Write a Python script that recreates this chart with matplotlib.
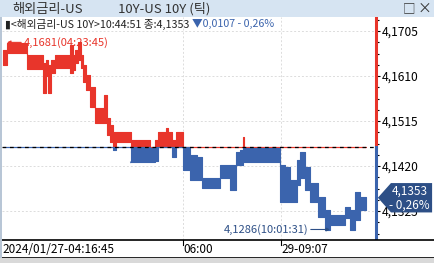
import numpy as np
import matplotlib
matplotlib.use("Agg")
import matplotlib.pyplot as plt
from matplotlib.patches import Polygon, Rectangle
from matplotlib.ticker import MultipleLocator

plt.rcParams['font.family'] = ['Noto Sans CJK KR', 'DejaVu Sans']

# 틱 데이터 (구간 시작 위치, 고가, 저가)
seg_x = [3, 7, 27, 43, 46, 48, 51, 55, 70, 73, 75, 78, 81, 83, 86, 90, 95, 104, 107, 110,
         113, 116, 131, 150, 155, 158, 166, 168, 172, 176, 183, 190, 197, 202, 220, 230, 236,
         240, 243, 244, 280, 285, 290, 297, 300, 305, 310, 318, 325, 330, 345, 350, 355, 360]
seg_hi = [4.1665, 4.1680, 4.1654, 4.1637, 4.1644, 4.1633, 4.1644, 4.1654, 4.1675, 4.1654,
          4.1665, 4.1682, 4.1654, 4.1633, 4.1612, 4.1587, 4.1542, 4.1570, 4.1521, 4.1507,
          4.1492, 4.1492, 4.1475, 4.1458, 4.1475, 4.1492, 4.1500, 4.1492, 4.1475, 4.1492,
          4.1460, 4.1443, 4.1439, 4.1395, 4.1422, 4.1422, 4.1450, 4.1454, 4.1481, 4.1458,
          4.1422, 4.1418, 4.1390, 4.1433, 4.1450, 4.1418, 4.1384, 4.1355, 4.1327, 4.1317,
          4.1333, 4.1327, 4.1365, 4.1355]
seg_lo = [4.1633, 4.1659, 4.1625, 4.1574, 4.1610, 4.1574, 4.1616, 4.1627, 4.1616, 4.1623,
          4.1637, 4.1644, 4.1627, 4.1597, 4.1580, 4.1545, 4.1511, 4.1511, 4.1485, 4.1471,
          4.1454, 4.1471, 4.1428, 4.1428, 4.1431, 4.1460, 4.1460, 4.1460, 4.1439, 4.1460,
          4.1412, 4.1390, 4.1390, 4.1374, 4.1395, 4.1369, 4.1422, 4.1422, 4.1428, 4.1428,
          4.1344, 4.1344, 4.1344, 4.1380, 4.1395, 4.1369, 4.1344, 4.1312, 4.1285, 4.1295,
          4.1310, 4.1285, 4.1306, 4.1327]
seg_end = 366
gap_x = [131, 150]
gap_v = [4.1428, 4.1450]

prev_close = 4.1460
last_price = 4.1353
y_ticks = [4.1325, 4.1420, 4.1515, 4.1610, 4.1705]
time_pos = [2, 183, 281]
time_labels = ['2024/01/27-04:16:45', '06:00', '29-09:07']

RED = '#e8352b'
BLUE = '#3b64ad'
DARK = '#2d4f86'

W, H = 434, 263
fig = plt.figure(figsize=(W / 100, H / 100), dpi=100)
fig.patch.set_facecolor('white')

def px(x0, y0, x1, y1):
    return [x0 / W, 1 - y1 / H, (x1 - x0) / W, (y1 - y0) / H]

# 타이틀 바
fig.patches.append(Rectangle((0, 1 - 17 / H), 1, 17 / H, transform=fig.transFigure,
                             facecolor='#d6e4f2', edgecolor='none', zorder=0))
fig.text(12 / W, 1 - 9 / H, '해외금리-US', fontsize=9.5, color='#333333', va='center')
fig.text(118 / W, 1 - 9 / H, '10Y-US 10Y (틱)', fontsize=9.5, color='#333333', va='center')
fig.text(409 / W, 1 - 9 / H, '□', fontsize=9, color='#333333', va='center', ha='center')
fig.text(424 / W, 1 - 9 / H, '×', fontsize=10, color='#333333', va='center', ha='center')

# 메인 차트
ax = fig.add_axes(px(2, 17, 376, 240))
ax.set_xlim(2, 376)
ax.set_ylim(4.12638, 4.17346)

xs = np.append(seg_x, seg_end)
hi = np.append(seg_hi, seg_hi[-1])
lo = np.append(seg_lo, seg_lo[-1])
ax.fill_between(xs, np.maximum(lo, prev_close), np.maximum(hi, prev_close),
                step='post', color=RED, lw=0.8, edgecolor=RED, zorder=3)
ax.fill_between(xs, np.minimum(lo, prev_close), np.minimum(hi, prev_close),
                step='post', color=BLUE, lw=0.8, edgecolor=BLUE, zorder=3)
ax.plot(gap_x, gap_v, color=BLUE, lw=1.2, zorder=3)

ax.axhline(prev_close, color='black', ls=(0, (3, 3)), lw=0.9, zorder=4)
for v in y_ticks:
    ax.axhline(v, color='#dcdcdc', ls=(0, (2, 2)), lw=0.7, zorder=1)
for t in time_pos[1:]:
    ax.axvline(t, color='#dcdcdc', ls=(0, (2, 2)), lw=0.7, zorder=1)

for s in ['top', 'bottom', 'left', 'right']:
    ax.spines[s].set_visible(False)
ax.plot([1, 1], [prev_close, 4.17346], transform=ax.get_yaxis_transform(),
        color=RED, lw=2.2, clip_on=False, zorder=5)
ax.plot([1, 1], [4.12638, prev_close], transform=ax.get_yaxis_transform(),
        color=BLUE, lw=2.2, clip_on=False, zorder=5)

ax.set_xticks([])
ax.yaxis.tick_right()
ax.set_yticks(y_ticks)
ax.set_yticklabels([f'{v:.4f}'.replace('.', ',') for v in y_ticks])
ax.yaxis.set_minor_locator(MultipleLocator(0.0095 / 4))
ax.tick_params(axis='y', which='major', length=3, width=0.8, pad=1,
               labelsize=8.7, colors='black')
ax.tick_params(axis='y', which='minor', length=2, width=0.8)

# 헤더
head = fig.text(5 / W, 1 - 24 / H, '▮<해외금리-US 10Y>10:44:51 종:4,1353', fontsize=7.7,
                color='#222222', va='center')
fig.canvas.draw()
bb = head.get_window_extent()
fig.text((bb.x1 + 3) / W, 1 - 24 / H, '▼0,0107 - 0,26%', fontsize=7.7, color=BLUE,
         va='center')

# 고가/저가 표시
ax.annotate('4,1681(04:23:45)', xy=(7, 4.1681), xytext=(24, 4.1681),
            color=RED, fontsize=8, va='center',
            arrowprops=dict(arrowstyle='-|>', color=RED, lw=0.8, mutation_scale=5,
                            shrinkA=0, shrinkB=0))
ax.annotate('4,1286(10:01:31)', xy=(330, 4.1286), xytext=(308, 4.1286),
            color=DARK, fontsize=8, va='center', ha='right',
            arrowprops=dict(arrowstyle='-|>', color=DARK, lw=0.8, mutation_scale=5,
                            shrinkA=0, shrinkB=0))

# 현재가 박스
tr = ax.get_yaxis_transform()
box = Polygon([(1.005, last_price), (1.04, last_price + 0.0031), (1.15, last_price + 0.0031),
               (1.15, last_price - 0.0031), (1.04, last_price - 0.0031)], closed=True,
              transform=tr, facecolor=DARK, edgecolor='none', clip_on=False, zorder=6)
ax.add_patch(box)
ax.text(1.09, last_price + 0.0014, '4,1353', transform=tr, color='white',
        fontsize=8.5, ha='center', va='center', zorder=7, clip_on=False)
ax.text(1.09, last_price - 0.0015, '- 0,26%', transform=tr, color='white',
        fontsize=8.5, ha='center', va='center', zorder=7, clip_on=False)

# 시간축
ax2 = fig.add_axes(px(0, 240, 434, 258))
ax2.set_xlim(0, W)
ax2.set_ylim(0, 1)
for s in ['left', 'right']:
    ax2.spines[s].set_visible(False)
ax2.spines['top'].set_linewidth(1.2)
ax2.spines['bottom'].set_linewidth(1.2)
ax2.set_yticks([])
ax2.set_xticks([])
for t, lab in zip(time_pos, time_labels):
    ax2.text(t, 0.45, lab, fontsize=8.5, va='center', ha='left', color='black')
    if t > 2:
        ax2.plot([t, t], [0.7, 1], color='black', lw=0.8)

fig.patches.append(Rectangle((0, 0), 1, 5 / H, transform=fig.transFigure,
                             facecolor='#d9d9d9', edgecolor='none', zorder=0))
fig.patches.append(Rectangle((0, 5 / H), 2 / W, 1 - 22 / H, transform=fig.transFigure,
                             facecolor='#b8c6d6', edgecolor='none', zorder=0))

fig.savefig('out.png', dpi=100)
